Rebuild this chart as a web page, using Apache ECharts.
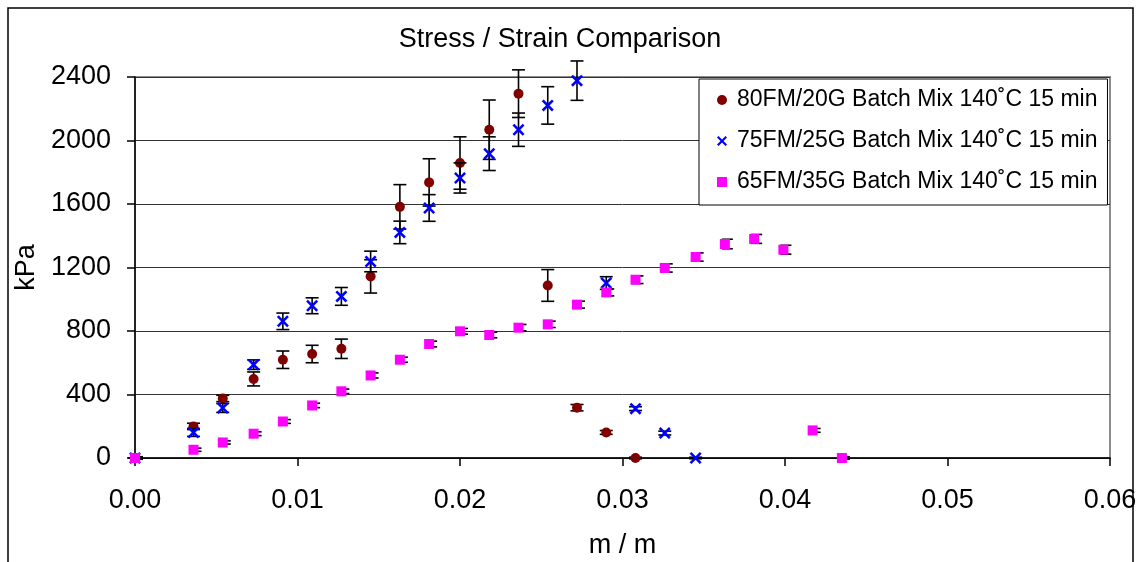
<!DOCTYPE html>
<html>
<head>
<meta charset="utf-8">
<script src="https://cdn.jsdelivr.net/npm/echarts@6/dist/echarts.min.js"></script>
<style>
html,body{margin:0;padding:0;background:#fff;}
#chart{width:1140px;height:562px;}
</style>
</head>
<body>
<div id="chart"></div>
<script>
// ---- data ----
const strain = [0, 0.0036, 0.0054, 0.0073, 0.0091, 0.0109, 0.0127, 0.0145, 0.0163, 0.0181, 0.0200, 0.0218,
  0.0236, 0.0254, 0.0272, 0.0290, 0.0308, 0.0326, 0.0345, 0.0363, 0.0381, 0.0399, 0.0417, 0.0435];
const seriesNames = ['80FM/20G Batch Mix 140˚C 15 min', '75FM/25G Batch Mix 140˚C 15 min', '65FM/35G Batch Mix 140˚C 15 min'];
const stress80 = [0, 199, 375, 498, 619, 655, 688, 1144, 1582, 1736, 1858, 2068, 2295, 1087, 317, 161, 0];
const err80 = [0, 20, 20, 44, 55, 55, 61, 105, 140, 149, 165, 187, 150, 100, 20, 12, 5];
const stress75 = [0, 161, 315, 588, 861, 959, 1018, 1238, 1421, 1575, 1764, 1917, 2068, 2221, 2377, 1102, 311, 157, 0];
const err75 = [0, 25, 28, 30, 52, 50, 56, 65, 71, 84, 95, 106, 105, 118, 124, 40, 12, 12, 5];
const stress65 = [0, 52, 98, 153, 230, 331, 420, 520, 619, 718, 798, 775, 821, 842, 966, 1043, 1123, 1197, 1266, 1348, 1380, 1312, 174, 0];
const err65 = [8, 10, 10, 12, 12, 14, 14, 16, 16, 18, 18, 18, 20, 20, 22, 22, 24, 26, 26, 30, 28, 28, 12, 8];
const xTicks = [0, 0.01, 0.02, 0.03, 0.04, 0.05, 0.06];
const yTicks = [0, 400, 800, 1200, 1600, 2000, 2400];

const FONT = '"Liberation Sans", Arial, sans-serif';
const chart = echarts.init(document.getElementById('chart'), null, {renderer: 'canvas'});

function pts(ys) { return ys.map((y, i) => [strain[i], y]); }
function errPts(ys, es) { return ys.map((y, i) => [strain[i], y, es[i]]); }

function errSeries(ys, es, capL, capR, z) {
  return {
    type: 'custom',
    name: 'err' + z,
    z: z,
    data: errPts(ys, es),
    encode: {x: 0, y: 1},
    silent: true,
    renderItem: function (params, api) {
      const x = api.value(0), y = api.value(1), e = api.value(2);
      const t = api.coord([x, y + e]);
      const b = api.coord([x, y - e]);
      const st = {stroke: '#000', lineWidth: 1.6};
      return {
        type: 'group',
        children: [
          {type: 'line', shape: {x1: t[0], y1: t[1], x2: b[0], y2: b[1]}, style: st},
          {type: 'line', shape: {x1: t[0] - capL, y1: t[1], x2: t[0] + capR, y2: t[1]}, style: st},
          {type: 'line', shape: {x1: b[0] - capL, y1: b[1], x2: b[0] + capR, y2: b[1]}, style: st}
        ]
      };
    }
  };
}

const xPath = 'path://M0,1.5 L1.5,0 L5,3.5 L8.5,0 L10,1.5 L6.5,5 L10,8.5 L8.5,10 L5,6.5 L1.5,10 L0,8.5 L3.5,5 Z';
const sqPath = 'path://M0,0 L10,0 L10,10 L0,10 Z';

const option = {
  backgroundColor: '#fff',
  animation: false,
  textStyle: {fontFamily: FONT},
  title: {
    text: 'Stress / Strain Comparison',
    left: 555,
    top: 21,
    textAlign: 'center',
    textStyle: {fontFamily: FONT, fontSize: 27, fontWeight: 'normal', color: '#000'}
  },
  graphic: [{
    type: 'rect',
    shape: {x: 8, y: 8, width: 1125, height: 620},
    style: {fill: 'none', stroke: '#000', lineWidth: 1.5},
    z: -10,
    silent: true
  }],
  grid: {
    left: 135, right: 30, top: 77, bottom: 104,
    containLabel: false,
    outerBoundsMode: 'none',
    show: true, borderColor: '#8c8c8c', borderWidth: 2, backgroundColor: 'transparent'
  },
  legend: {
    data: seriesNames,
    orient: 'vertical',
    left: 699, top: 79,
    padding: [8, 10, 10, 18],
    itemWidth: 20, itemHeight: 10,
    itemGap: 15,
    borderColor: '#000', borderWidth: 1,
    backgroundColor: '#fff',
    textStyle: {fontFamily: FONT, fontSize: 23, color: '#000', lineHeight: 26},
    selectedMode: false
  },
  xAxis: {
    type: 'value',
    min: 0, max: 0.06, interval: 0.01,
    name: 'm / m',
    nameLocation: 'middle',
    nameGap: 74,
    nameTextStyle: {fontFamily: FONT, fontSize: 27, color: '#000'},
    axisLine: {show: true, onZero: false, lineStyle: {color: '#000', width: 1.5}},
    axisTick: {show: true, inside: false, length: 8, lineStyle: {color: '#000', width: 1.5}},
    axisLabel: {
      margin: 29, color: '#000', fontSize: 27, fontFamily: FONT,
      formatter: v => xTicks.some(t => Math.abs(t - v) < 1e-9) ? v.toFixed(2) : ''
    },
    splitLine: {show: false}
  },
  yAxis: {
    type: 'value',
    min: 0, max: 2400, interval: 400,
    name: 'kPa',
    nameLocation: 'middle',
    nameRotate: 90,
    nameGap: 92,
    nameTextStyle: {fontFamily: FONT, fontSize: 27, color: '#000'},
    axisLine: {show: true, lineStyle: {color: '#000', width: 1.5}},
    axisTick: {show: true, inside: false, length: 8, lineStyle: {color: '#000', width: 1.5}},
    axisLabel: {
      margin: 24, color: '#000', fontSize: 27, fontFamily: FONT,
      formatter: v => yTicks.indexOf(v) >= 0 ? String(v) : ''
    },
    splitLine: {show: true, lineStyle: {color: '#333', width: 1}}
  },
  series: [
    errSeries(stress80, err80, 6.5, 6.5, 2),
    {
      type: 'scatter', name: seriesNames[0], z: 3,
      data: pts(stress80), symbol: 'circle', symbolSize: 10, symbolKeepAspect: true,
      itemStyle: {color: '#800000', opacity: 1}
    },
    errSeries(stress75, err75, 6.5, 6.5, 4),
    {
      type: 'scatter', name: seriesNames[1], z: 5,
      data: pts(stress75), symbol: xPath, symbolSize: 12, symbolKeepAspect: true,
      itemStyle: {color: '#0000ff', opacity: 1}
    },
    errSeries(stress65, err65, 3, 8, 6),
    {
      type: 'scatter', name: seriesNames[2], z: 7,
      data: pts(stress65), symbol: sqPath, symbolSize: 10, symbolKeepAspect: true,
      itemStyle: {color: '#ff00ff', opacity: 1}
    }
  ]
};
chart.setOption(option);
</script>
</body>
</html>
